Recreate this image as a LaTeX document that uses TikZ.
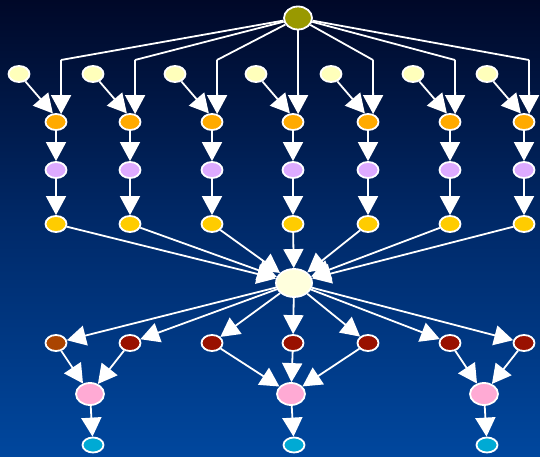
\documentclass[tikz,border=0pt]{standalone}
\usetikzlibrary{arrows.meta,shapes.geometric}
\definecolor{bgtop}{HTML}{000828}
\definecolor{bgmid}{HTML}{002A6A}
\definecolor{bgbot}{HTML}{00479E}
\definecolor{olivec}{HTML}{999900}
\definecolor{lyel}{HTML}{FFFFBB}
\definecolor{cyel}{HTML}{FFFFDD}
\definecolor{orng}{HTML}{FFAA00}
\definecolor{lavc}{HTML}{DDAAFF}
\definecolor{gold}{HTML}{FFCC00}
\definecolor{brwn}{HTML}{AA4400}
\definecolor{dred}{HTML}{991100}
\definecolor{pnkc}{HTML}{FFAAD4}
\definecolor{cyanc}{HTML}{00AAD4}
\tikzset{
  nd/.style={ellipse, draw=white, line width=1.8pt, minimum width=21pt, minimum height=16pt, inner sep=0pt},
  arr/.style={draw=white, line width=1.8pt, -{Triangle[length=19pt,width=20pt,fill=white]}},
  ln/.style={draw=white, line width=1.8pt}
}
\begin{document}
\begin{tikzpicture}[x=1pt,y=-1pt]
\useasboundingbox (0,0) rectangle (540,457);
\fill[top color=bgtop, bottom color=bgbot, middle color=bgmid] (0,0) rectangle (540,457);
\node[nd, fill=olivec, minimum width=28pt, minimum height=23pt] (top) at (298,18) {};
\node[nd, fill=cyel, minimum width=36pt, minimum height=28pt] (c) at (294,283) {};
\foreach \i/\x in {1/56,2/130,3/212,4/293,5/368,6/450,7/524}{
  \node[nd, fill=lyel] (l\i) at (\x-37,74) {};
  \node[nd, fill=orng] (o\i) at (\x,122) {};
  \node[nd, fill=lavc] (v\i) at (\x,170) {};
  \node[nd, fill=gold] (g\i) at (\x,224) {};
  \coordinate (b\i) at (\x+5,60);
  \draw[ln] (top) -- (b\i);
  \draw[arr] (b\i) -- (o\i.57);
  \draw[arr] (l\i) -- (o\i.110);
  \draw[arr] (o\i) -- (v\i);
  \draw[arr] (v\i) -- (g\i);
  \draw[arr] (g\i) -- (c);
}
\node[nd, fill=brwn] (r1) at (56,343) {};
\node[nd, fill=dred] (r2) at (130,343) {};
\node[nd, fill=dred] (r3) at (212,343) {};
\node[nd, fill=dred] (r4) at (293,343) {};
\node[nd, fill=dred] (r5) at (368,343) {};
\node[nd, fill=dred] (r6) at (450,343) {};
\node[nd, fill=dred] (r7) at (524,343) {};
\foreach \i in {1,...,7}{ \draw[arr] (c) -- (r\i); }
\node[nd, fill=pnkc, minimum width=28pt, minimum height=22pt] (p1) at (90,394) {};
\node[nd, fill=pnkc, minimum width=28pt, minimum height=22pt] (p2) at (291,394) {};
\node[nd, fill=pnkc, minimum width=28pt, minimum height=22pt] (p3) at (484,394) {};
\node[nd, fill=cyanc, minimum width=21pt, minimum height=15pt] (k1) at (93,445) {};
\node[nd, fill=cyanc, minimum width=21pt, minimum height=15pt] (k2) at (294,445) {};
\node[nd, fill=cyanc, minimum width=21pt, minimum height=15pt] (k3) at (487,445) {};
\draw[arr] (r1) -- (p1);
\draw[arr] (r2) -- (p1);
\draw[arr] (r3) -- (p2);
\draw[arr] (r4) -- (p2);
\draw[arr] (r5) -- (p2);
\draw[arr] (r6) -- (p3);
\draw[arr] (r7) -- (p3);
\draw[arr] (p1) -- (k1);
\draw[arr] (p2) -- (k2);
\draw[arr] (p3) -- (k3);
\end{tikzpicture}
\end{document}
